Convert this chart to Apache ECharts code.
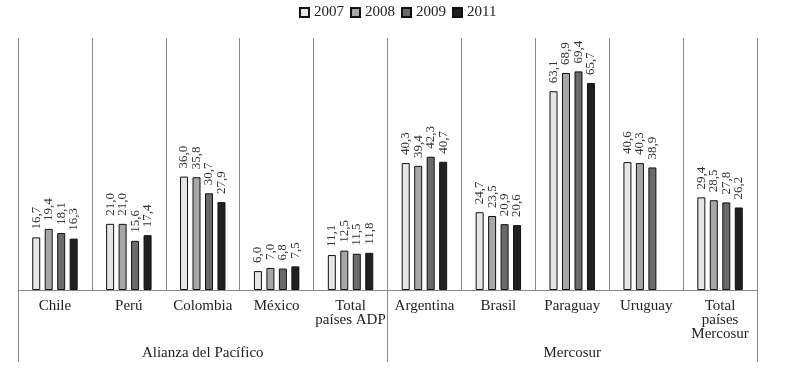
<!DOCTYPE html>
<html><head><meta charset="utf-8">
<script src="https://cdn.jsdelivr.net/npm/echarts@6/dist/echarts.min.js"></script>
<style>html,body{margin:0;padding:0;background:#fff}#c{width:804px;height:380px}</style>
</head><body><div id="c"></div>
<script>
const categories = ['Chile', 'Perú', 'Colombia', 'México', 'Total\npaíses ADP', 'Argentina', 'Brasil', 'Paraguay', 'Uruguay', 'Total\npaíses\nMercosur'];
const groups = ['Alianza del Pacífico', 'Mercosur'];
const seriesNames = ['2007', '2008', '2009', '2011'];
const v2007 = [16.7, 21.0, 36.0, 6.0, 11.1, 40.3, 24.7, 63.1, 40.6, 29.4];
const v2008 = [19.4, 21.0, 35.8, 7.0, 12.5, 39.4, 23.5, 68.9, 40.3, 28.5];
const v2009 = [18.1, 15.6, 30.7, 6.8, 11.5, 42.3, 20.9, 69.4, 38.9, 27.8];
const v2011 = [16.3, 17.4, 27.9, 7.5, 11.8, 40.7, 20.6, 65.7, null, 26.2];
const colors = ['#e6e6e6', '#a7a7a9', '#6a6a6d', '#231f20'];

const FONT = '"Liberation Serif", "DejaVu Serif", serif';
const values = [v2007, v2008, v2009, v2011];
const chart = echarts.init(document.getElementById('c'));
chart.setOption({
  animation: false,
  backgroundColor: '#fff',
  legend: {
    top: 0, left: 294, itemWidth: 9, itemHeight: 9, itemGap: 6, icon: 'rect',
    textStyle: { fontFamily: FONT, fontSize: 15, color: '#222' },
    data: seriesNames
  },
  grid: { left: 18, right: 47, top: 38, bottom: 90 },
  xAxis: [{
    type: 'category', data: categories,
    axisLine: { lineStyle: { color: '#888', width: 1 } },
    axisTick: { show: false },
    splitLine: { show: true, interval: 0, lineStyle: { color: '#888', width: 1 } },
    axisLabel: { interval: 0, margin: 9, fontFamily: FONT, fontSize: 15, color: '#222', lineHeight: 14 }
  }, {
    type: 'category', data: groups, position: 'bottom',
    axisLine: { show: false },
    axisTick: { show: true, interval: 0, length: 72, lineStyle: { color: '#888', width: 1 } },
    axisLabel: { interval: 0, margin: 56, fontFamily: FONT, fontSize: 15, color: '#222' }
  }],
  yAxis: { type: 'value', min: 0, max: 80, show: false },
  series: seriesNames.map((n, i) => ({
    name: n, type: 'bar', data: values[i], barWidth: 8, barGap: '56%',
    itemStyle: { color: colors[i], borderColor: '#111', borderWidth: 1 },
    label: {
      show: true, position: 'top', rotate: 90, align: 'left', verticalAlign: 'middle', distance: 8,
      fontFamily: FONT, fontSize: 13, color: '#333',
      formatter: p => p.value == null ? '' : p.value.toFixed(1).replace('.', ',')
    }
  }))
});
</script></body></html>
